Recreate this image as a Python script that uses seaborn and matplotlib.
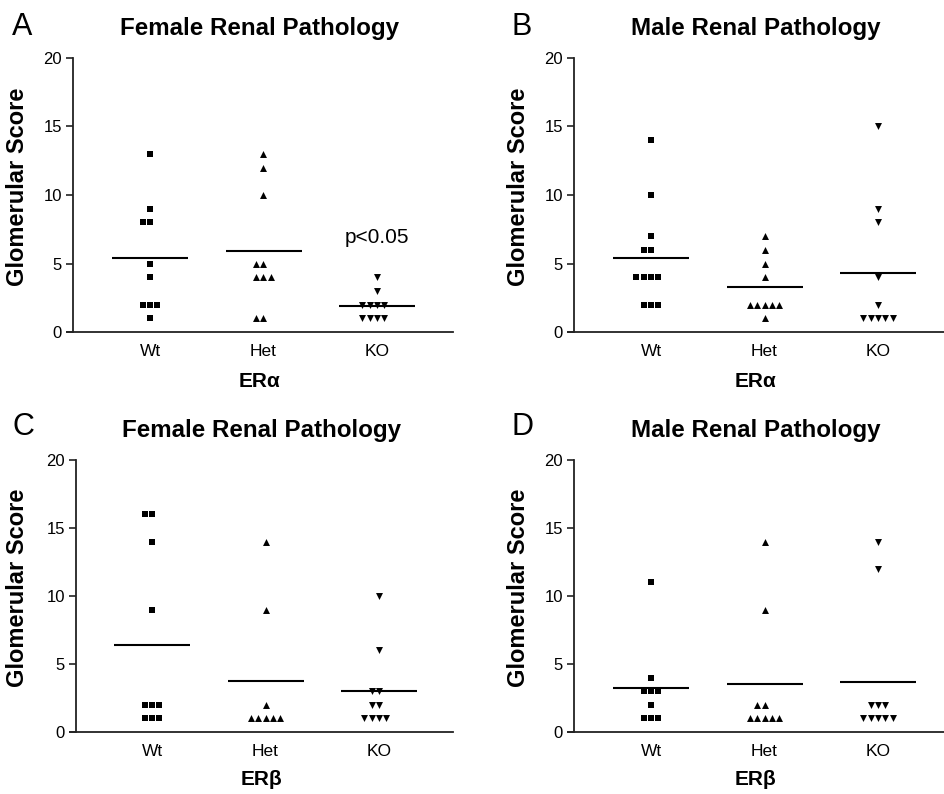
import numpy as np
import pandas as pd
import matplotlib
matplotlib.use("Agg")
import matplotlib.pyplot as plt
import seaborn as sns

# ---------------- data ----------------
groups = ["Wt", "Het", "KO"]

# A: Female, ERalpha
fa_wt = [13, 9, 8, 8, 5, 4, 2, 2, 2, 1]
fa_het = [13, 12, 10, 5, 5, 4, 4, 4, 1, 1]
fa_ko = [4, 3, 2, 2, 2, 2, 1, 1, 1, 1]
# B: Male, ERalpha
ma_wt = [14, 10, 7, 6, 6, 4, 4, 4, 4, 2, 2, 2]
ma_het = [7, 6, 5, 4, 2, 2, 2, 2, 2, 1]
ma_ko = [15, 9, 8, 4, 2, 1, 1, 1, 1, 1]
# C: Female, ERbeta
fb_wt = [16, 16, 14, 9, 2, 2, 2, 1, 1, 1]
fb_het = [14, 9, 2, 1, 1, 1, 1, 1]
fb_ko = [10, 6, 3, 3, 2, 2, 1, 1, 1, 1]
# D: Male, ERbeta
mb_wt = [11, 4, 3, 3, 3, 2, 1, 1, 1]
mb_het = [14, 9, 2, 2, 1, 1, 1, 1, 1]
mb_ko = [14, 12, 2, 2, 2, 1, 1, 1, 1, 1]

panel_letters = ["A", "B", "C", "D"]
panel_titles = ["Female Renal Pathology", "Male Renal Pathology",
                "Female Renal Pathology", "Male Renal Pathology"]
panel_xlabels = ["ERα", "ERα", "ERβ", "ERβ"]
y_label = "Glomerular Score"
y_ticks = [0, 5, 10, 15, 20]
annotation_text = "p<0.05"

panel_data = [
    (fa_wt, fa_het, fa_ko),
    (ma_wt, ma_het, ma_ko),
    (fb_wt, fb_het, fb_ko),
    (mb_wt, mb_het, mb_ko),
]

def make_frame(wt, het, ko):
    rows = []
    for g, vals in zip(groups, (wt, het, ko)):
        for v in vals:
            rows.append({"group": g, "score": v})
    return pd.DataFrame(rows)

# ---------------- style ----------------
sns.set_theme(style="ticks")
plt.rcParams["font.family"] = ["Liberation Sans", "DejaVu Sans"]
plt.rcParams["axes.linewidth"] = 1.3
for key in ["text.color", "axes.labelcolor", "xtick.color", "ytick.color",
            "xtick.labelcolor", "ytick.labelcolor"]:
    plt.rcParams[key] = "black"

W, H = 944, 794
fig = plt.figure(figsize=(W / 100, H / 100), dpi=100)

# axes rectangles in pixels: (left, top, right, bottom)
rects_px = [
    (67, 58, 453, 332),
    (568, 58, 944, 332),
    (70, 460, 453, 732),
    (568, 460, 944, 732),
]
wt_x_px = [150, 651, 152, 651]
ylabel_right_px = [29, 530, 29, 530]
xlabel_top_px = [372, 372, 770, 770]
cat_step = 113.5
letter_pos = [(12, 35), (512, 35), (12, 435), (512, 435)]

group_markers = {"Wt": "s", "Het": "^", "KO": "v"}

for i in range(4):
    l, t, r, b = rects_px[i]
    ax = fig.add_axes([l / W, 1 - b / H, (r - l) / W, (b - t) / H])
    df = make_frame(*panel_data[i])

    for g in groups:
        sub = df[df["group"] == g]
        sns.swarmplot(data=sub, x="group", y="score", order=groups,
                      marker=group_markers[g], color="black", size=5.0,
                      linewidth=0, ax=ax)

    sns.pointplot(data=df, x="group", y="score", order=groups,
                  estimator="mean", errorbar=None, color="black",
                  markers="_", linestyles="none", markersize=55,
                  markeredgewidth=1.5, ax=ax)

    left_lim = -(wt_x_px[i] - l) / cat_step
    right_lim = left_lim + (r - l) / cat_step
    ax.set_xlim(left_lim, right_lim)
    ax.set_ylim(0, 20)
    ax.set_yticks(y_ticks)

    sns.despine(ax=ax)
    ax.spines["left"].set_position(("outward", -4.3))
    ax.spines["left"].set_color("#222222")
    ax.spines["bottom"].set_color("#222222")

    ax.tick_params(axis="y", length=5, width=1.2, color="#222222",
                   labelsize=12, pad=3, direction="out")
    ax.tick_params(axis="x", length=0, labelsize=12.5, pad=9)

    ax.set_ylabel(y_label, fontsize=17, fontweight="bold")
    ax.yaxis.set_label_coords((ylabel_right_px[i] - l) / (r - l), 0.53)
    ax.set_xlabel(panel_xlabels[i], fontsize=15, fontweight="bold")
    ax.xaxis.set_label_coords(0.5, -(xlabel_top_px[i] - b) / (b - t))

    ax.set_title(panel_titles[i], fontsize=17.4, fontweight="bold", pad=16.5)

    lx, ly = letter_pos[i]
    fig.text(lx / W, 1 - ly / H, panel_letters[i], fontsize=22,
             ha="left", va="baseline")

    if i == 0:
        ax.text(2, 6.9, annotation_text, fontsize=15, ha="center", va="center")

fig.savefig("out.png", dpi=100)
